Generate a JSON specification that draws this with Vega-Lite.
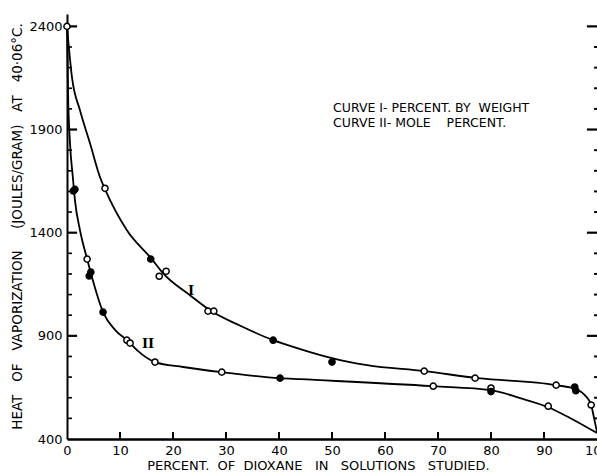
{
  "$schema": "https://vega.github.io/schema/vega-lite/v6.json",
  "width": 530,
  "height": 425,
  "autosize": {"type": "none"},
  "padding": {"left": 67, "top": 14, "right": 0, "bottom": 36},
  "background": "white",
  "config": {
    "view": {"stroke": null},
    "scale": {"continuousPadding": 0},
    "axis": {
      "grid": false,
      "domainColor": "black",
      "labelColor": "black",
      "titleColor": "black",
      "labelFont": "DejaVu Sans",
      "titleFont": "DejaVu Sans",
      "domainWidth": 2
    }
  },
  "datasets": {
    "curves": [
      {"curve": "I", "x": 0, "y": 2400}, {"curve": "I", "x": 0.94, "y": 2153}, {"curve": "I", "x": 2.45, "y": 1993},
      {"curve": "I", "x": 4.34, "y": 1833}, {"curve": "I", "x": 6.23, "y": 1669}, {"curve": "I", "x": 7.17, "y": 1611},
      {"curve": "I", "x": 11.3, "y": 1412}, {"curve": "I", "x": 16.0, "y": 1272}, {"curve": "I", "x": 18.1, "y": 1204},
      {"curve": "I", "x": 23.2, "y": 1097}, {"curve": "I", "x": 27.2, "y": 1020}, {"curve": "I", "x": 32.6, "y": 950},
      {"curve": "I", "x": 38.9, "y": 879}, {"curve": "I", "x": 44.0, "y": 836}, {"curve": "I", "x": 50.0, "y": 792},
      {"curve": "I", "x": 56.6, "y": 758}, {"curve": "I", "x": 67.4, "y": 729}, {"curve": "I", "x": 77.5, "y": 695},
      {"curve": "I", "x": 92.3, "y": 661}, {"curve": "I", "x": 96.0, "y": 642}, {"curve": "I", "x": 97.7, "y": 613},
      {"curve": "I", "x": 98.9, "y": 565}, {"curve": "I", "x": 99.4, "y": 507}, {"curve": "I", "x": 100, "y": 434},
      {"curve": "II", "x": 0, "y": 2400}, {"curve": "II", "x": 0.2, "y": 2075}, {"curve": "II", "x": 0.57, "y": 1833},
      {"curve": "II", "x": 1.1, "y": 1669}, {"curve": "II", "x": 1.5, "y": 1557}, {"curve": "II", "x": 2.45, "y": 1412},
      {"curve": "II", "x": 3.8, "y": 1272}, {"curve": "II", "x": 4.7, "y": 1185}, {"curve": "II", "x": 6.8, "y": 1015},
      {"curve": "II", "x": 9.1, "y": 928}, {"curve": "II", "x": 11.5, "y": 875}, {"curve": "II", "x": 13.2, "y": 831},
      {"curve": "II", "x": 16.6, "y": 773}, {"curve": "II", "x": 21.9, "y": 749}, {"curve": "II", "x": 29.2, "y": 724},
      {"curve": "II", "x": 40.2, "y": 695}, {"curve": "II", "x": 44, "y": 690}, {"curve": "II", "x": 69, "y": 656},
      {"curve": "II", "x": 80, "y": 637}, {"curve": "II", "x": 85.5, "y": 598}, {"curve": "II", "x": 90.8, "y": 554},
      {"curve": "II", "x": 94.9, "y": 502}, {"curve": "II", "x": 100, "y": 429}
    ],
    "points": [
      {"curve": "I", "set": "open", "x": 0, "y": 2400},
      {"curve": "I", "set": "open", "x": 7.17, "y": 1615},
      {"curve": "I", "set": "solid", "x": 15.8, "y": 1272},
      {"curve": "I", "set": "open", "x": 17.4, "y": 1189},
      {"curve": "I", "set": "open", "x": 18.7, "y": 1213},
      {"curve": "I", "set": "open", "x": 26.6, "y": 1020},
      {"curve": "I", "set": "open", "x": 27.7, "y": 1020},
      {"curve": "I", "set": "solid", "x": 38.9, "y": 879},
      {"curve": "I", "set": "solid", "x": 50.0, "y": 773},
      {"curve": "I", "set": "open", "x": 67.4, "y": 729},
      {"curve": "I", "set": "open", "x": 77.0, "y": 695},
      {"curve": "I", "set": "open", "x": 92.3, "y": 661},
      {"curve": "I", "set": "solid", "x": 95.8, "y": 652},
      {"curve": "I", "set": "solid", "x": 96.0, "y": 634},
      {"curve": "I", "set": "open", "x": 98.9, "y": 565},
      {"curve": "II", "set": "solid", "x": 1.2, "y": 1602},
      {"curve": "II", "set": "solid", "x": 1.5, "y": 1610},
      {"curve": "II", "set": "open", "x": 3.8, "y": 1272},
      {"curve": "II", "set": "solid", "x": 4.5, "y": 1209},
      {"curve": "II", "set": "solid", "x": 4.2, "y": 1190},
      {"curve": "II", "set": "solid", "x": 6.8, "y": 1015},
      {"curve": "II", "set": "open", "x": 11.3, "y": 879},
      {"curve": "II", "set": "open", "x": 11.9, "y": 865},
      {"curve": "II", "set": "open", "x": 16.6, "y": 773},
      {"curve": "II", "set": "open", "x": 29.2, "y": 724},
      {"curve": "II", "set": "solid", "x": 40.2, "y": 695},
      {"curve": "II", "set": "open", "x": 69.1, "y": 656},
      {"curve": "II", "set": "open", "x": 80.0, "y": 647},
      {"curve": "II", "set": "solid", "x": 80.0, "y": 630},
      {"curve": "II", "set": "open", "x": 90.8, "y": 559}
    ],
    "curveLabels": [
      {"x": 23.4, "y": 1117, "label": "I"},
      {"x": 15.3, "y": 860, "label": "II"}
    ],
    "note": [
      {"x": 50.2, "y": 2003, "text": "CURVE I- PERCENT. BY\u00a0 WEIGHT"},
      {"x": 50.2, "y": 1930, "text": "CURVE II- MOLE\u00a0\u00a0\u00a0 PERCENT."}
    ],
    "yMajor": [{"v": 900}, {"v": 1400}, {"v": 1900}, {"v": 2400}],
    "yMinor": [
      {"v": 500}, {"v": 600}, {"v": 700}, {"v": 800}, {"v": 1000}, {"v": 1100}, {"v": 1200}, {"v": 1300},
      {"v": 1500}, {"v": 1600}, {"v": 1700}, {"v": 1800}, {"v": 2000}, {"v": 2100}, {"v": 2200}, {"v": 2300}
    ],
    "xMajor": [{"v": 10}, {"v": 20}, {"v": 30}, {"v": 40}, {"v": 50}, {"v": 60}, {"v": 70}, {"v": 80}, {"v": 90}]
  },
  "layer": [
    {
      "data": {"name": "curves"},
      "mark": {"type": "line", "interpolate": "monotone", "color": "black", "strokeWidth": 1.8},
      "encoding": {
        "detail": {"field": "curve"},
        "x": {
          "field": "x",
          "type": "quantitative",
          "scale": {"domain": [0, 100], "nice": false, "zero": false, "padding": 0},
          "axis": {
            "orient": "bottom",
            "values": [0, 10, 20, 30, 40, 50, 60, 70, 80, 90, 100],
            "ticks": false,
            "tickSize": 0,
            "domainWidth": 2.5,
            "labelPadding": 5,
            "labelFlush": false,
            "labelOverlap": false,
            "labelFontSize": 13,
            "title": "PERCENT.\u00a0 OF\u00a0 DIOXANE\u00a0\u00a0 IN\u00a0\u00a0 SOLUTIONS\u00a0\u00a0 STUDIED.",
            "titleFontSize": 13,
            "titleFontWeight": "normal",
            "titleX": 251,
            "titleY": 26,
            "titleBaseline": "middle"
          }
        },
        "y": {
          "field": "y",
          "type": "quantitative",
          "scale": {"domain": [400, 2460], "nice": false, "zero": false, "padding": 0},
          "axis": {
            "orient": "left",
            "values": [400, 900, 1400, 1900, 2400],
            "format": "d",
            "ticks": false,
            "tickSize": 0,
            "labelPadding": 5,
            "labelFontSize": 13,
            "title": "HEAT\u00a0\u00a0 OF\u00a0\u00a0 VAPORIZATION\u00a0\u00a0\u00a0\u00a0 (JOULES/GRAM)\u00a0\u00a0 AT\u00a0\u00a0 40·06°C.",
            "titleFontSize": 13.5,
            "titleFontWeight": "normal",
            "titleX": -50,
            "titleY": 212,
            "titleAngle": -90,
            "titleAlign": "center",
            "titleBaseline": "middle"
          }
        }
      }
    },
    {
      "data": {"name": "yMajor"},
      "mark": {"type": "bar", "color": "black", "height": 2.2},
      "encoding": {
        "y": {"field": "v", "type": "quantitative", "scale": {"domain": [400, 2460], "nice": false, "zero": false, "padding": 0}, "axis": null},
        "x": {"datum": 0, "type": "quantitative", "axis": null},
        "x2": {"datum": 1.9}
      }
    },
    {
      "data": {"name": "yMinor"},
      "mark": {"type": "bar", "color": "black", "height": 1.6},
      "encoding": {
        "y": {"field": "v", "type": "quantitative", "scale": {"domain": [400, 2460], "nice": false, "zero": false, "padding": 0}, "axis": null},
        "x": {"datum": 0, "type": "quantitative", "axis": null},
        "x2": {"datum": 0.95}
      }
    },
    {
      "data": {"name": "yMajor"},
      "mark": {"type": "bar", "color": "black", "height": 2.2},
      "encoding": {
        "y": {"field": "v", "type": "quantitative", "scale": {"domain": [400, 2460], "nice": false, "zero": false, "padding": 0}, "axis": null},
        "x": {"datum": 98.1, "type": "quantitative", "axis": null},
        "x2": {"datum": 100}
      }
    },
    {
      "data": {"name": "yMinor"},
      "mark": {"type": "bar", "color": "black", "height": 2},
      "encoding": {
        "y": {"field": "v", "type": "quantitative", "scale": {"domain": [400, 2460], "nice": false, "zero": false, "padding": 0}, "axis": null},
        "x": {"datum": 99.45, "type": "quantitative", "axis": null},
        "x2": {"datum": 100}
      }
    },
    {
      "data": {"name": "xMajor"},
      "mark": {"type": "bar", "color": "black", "width": 2},
      "encoding": {
        "x": {"field": "v", "type": "quantitative", "scale": {"domain": [0, 100], "nice": false, "zero": false, "padding": 0}, "axis": null},
        "y": {"datum": 400, "type": "quantitative", "axis": null},
        "y2": {"datum": 434}
      }
    },
    {
      "data": {"name": "points"},
      "mark": {"type": "point", "shape": "circle", "filled": true, "size": 38, "stroke": "black", "strokeWidth": 1.5, "opacity": 1},
      "encoding": {
        "fill": {"field": "set", "type": "nominal", "scale": {"domain": ["open", "solid"], "range": ["white", "black"]}, "legend": null},
        "x": {"field": "x", "type": "quantitative", "scale": {"domain": [0, 100], "nice": false, "zero": false, "padding": 0}, "axis": null},
        "y": {"field": "y", "type": "quantitative", "scale": {"domain": [400, 2460], "nice": false, "zero": false, "padding": 0}, "axis": null}
      }
    },
    {
      "data": {"name": "curveLabels"},
      "mark": {"type": "text", "font": "DejaVu Serif", "fontWeight": "bold", "fontSize": 13, "color": "black", "baseline": "middle", "align": "center"},
      "encoding": {
        "text": {"field": "label"},
        "x": {"field": "x", "type": "quantitative", "scale": {"domain": [0, 100], "nice": false, "zero": false, "padding": 0}, "axis": null},
        "y": {"field": "y", "type": "quantitative", "scale": {"domain": [400, 2460], "nice": false, "zero": false, "padding": 0}, "axis": null}
      }
    },
    {
      "data": {"name": "note"},
      "mark": {"type": "text", "font": "DejaVu Sans", "fontSize": 12.5, "color": "black", "baseline": "middle", "align": "left"},
      "encoding": {
        "text": {"field": "text"},
        "x": {"field": "x", "type": "quantitative", "scale": {"domain": [0, 100], "nice": false, "zero": false, "padding": 0}, "axis": null},
        "y": {"field": "y", "type": "quantitative", "scale": {"domain": [400, 2460], "nice": false, "zero": false, "padding": 0}, "axis": null}
      }
    }
  ],
  "resolve": {"axis": {"x": "independent", "y": "independent"}}
}
